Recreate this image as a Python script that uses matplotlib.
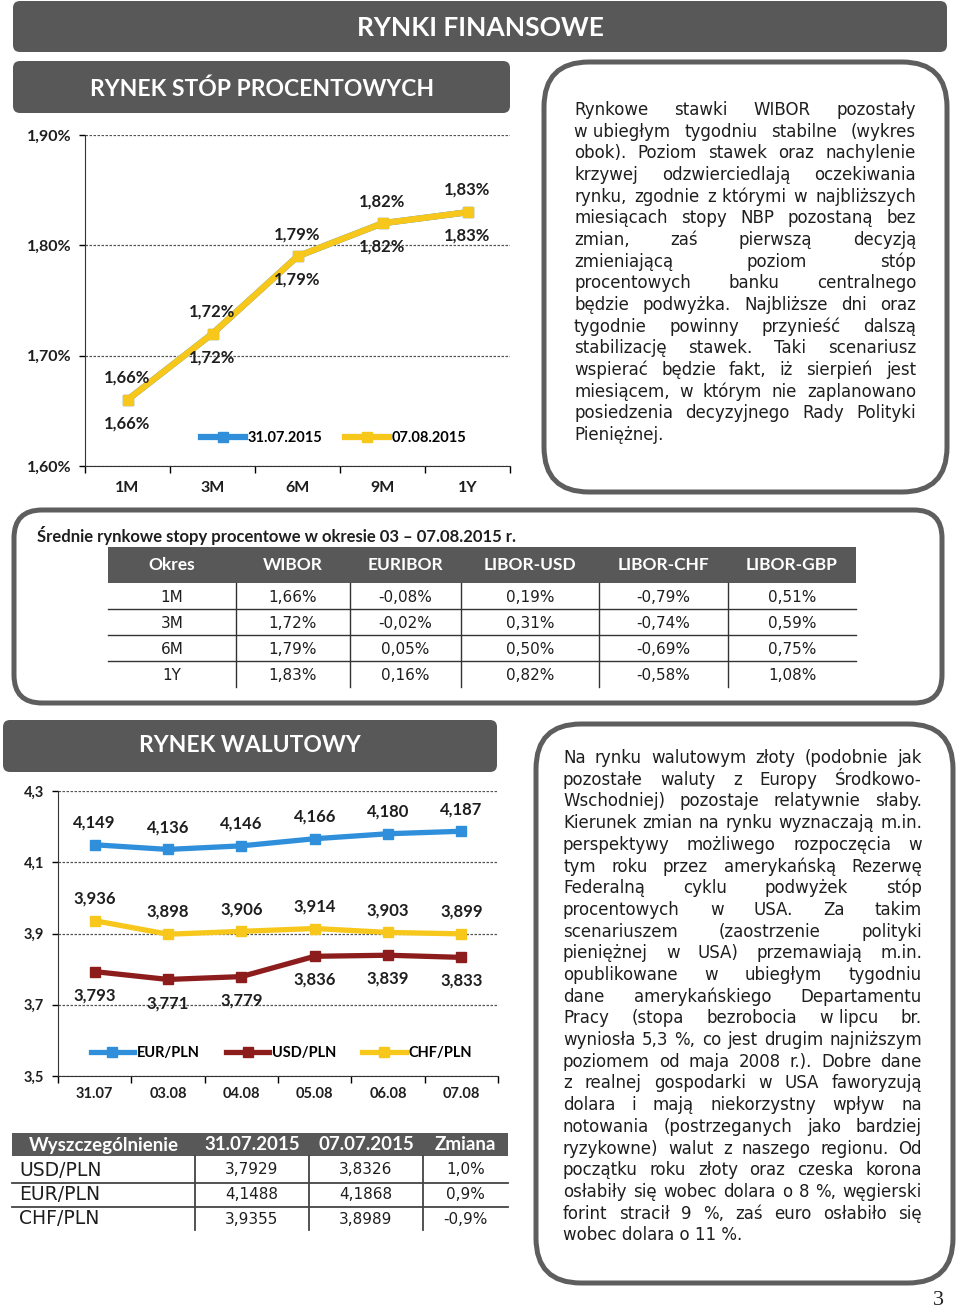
import numpy as np
import matplotlib
matplotlib.use('Agg')
from matplotlib import pyplot as plt
from matplotlib import ticker
from matplotlib.patches import FancyBboxPatch, Rectangle

plt.rcParams['font.family'] = ['Lato', 'DejaVu Sans']

W, H = 960, 1311
DARK = '#585858'
EDGE = '#5e5e5e'
INK = '#1e1e1e'
BLUE = '#2f8fdb'
YELLOW = '#f7c71c'
RED = '#8d1d1d'
BODY = ['DejaVu Sans']

# --- rynek stop procentowych (wykres)
tenors = ['1M', '3M', '6M', '9M', '1Y']
wibor_3107 = [1.66, 1.72, 1.79, 1.82, 1.83]
wibor_0708 = [1.66, 1.72, 1.79, 1.82, 1.83]
rate_ticks = [1.60, 1.70, 1.80, 1.90]

# --- srednie stopy (tabela)
table_cols = ['Okres', 'WIBOR', 'EURIBOR', 'LIBOR-USD', 'LIBOR-CHF', 'LIBOR-GBP']
table_periods = ['1M', '3M', '6M', '1Y']
wibor = [1.66, 1.72, 1.79, 1.83]
euribor = [-0.08, -0.02, 0.05, 0.16]
libor_usd = [0.19, 0.31, 0.50, 0.82]
libor_chf = [-0.79, -0.74, -0.69, -0.58]
libor_gbp = [0.51, 0.59, 0.75, 1.08]

# --- rynek walutowy (wykres)
days = ['31.07', '03.08', '04.08', '05.08', '06.08', '07.08']
eur_pln = [4.149, 4.136, 4.146, 4.166, 4.180, 4.187]
usd_pln = [3.793, 3.771, 3.779, 3.836, 3.839, 3.833]
chf_pln = [3.936, 3.898, 3.906, 3.914, 3.903, 3.899]
fx_ticks = [3.5, 3.7, 3.9, 4.1, 4.3]

# --- kursy (tabela)
fx_cols = ['Wyszczególnienie', '31.07.2015', '07.07.2015', 'Zmiana']
fx_pairs = ['USD/PLN', 'EUR/PLN', 'CHF/PLN']
fx_start = [3.7929, 4.1488, 3.9355]
fx_end = [3.8326, 4.1868, 3.8989]
fx_change = [1.0, 0.9, -0.9]

# '~' = spacja nierozciagana
text_rates = [
    'Rynkowe stawki WIBOR pozostały',
    'w~ubiegłym tygodniu stabilne (wykres',
    'obok). Poziom stawek oraz nachylenie',
    'krzywej odzwierciedlają oczekiwania',
    'rynku, zgodnie z~którymi w najbliższych',
    'miesiącach stopy NBP pozostaną bez',
    'zmian, zaś pierwszą decyzją',
    'zmieniającą poziom stóp',
    'procentowych banku centralnego',
    'będzie podwyżka. Najbliższe dni oraz',
    'tygodnie powinny przynieść dalszą',
    'stabilizację stawek. Taki scenariusz',
    'wspierać będzie fakt, iż sierpień jest',
    'miesiącem, w którym nie zaplanowano',
    'posiedzenia decyzyjnego Rady Polityki',
    'Pieniężnej.',
]
text_fx = [
    'Na rynku walutowym złoty (podobnie jak',
    'pozostałe waluty z Europy Środkowo-',
    'Wschodniej) pozostaje relatywnie słaby.',
    'Kierunek zmian na rynku wyznaczają m.in.',
    'perspektywy możliwego rozpoczęcia w',
    'tym roku przez amerykańską Rezerwę',
    'Federalną cyklu podwyżek stóp',
    'procentowych w USA. Za takim',
    'scenariuszem (zaostrzenie polityki',
    'pieniężnej w USA) przemawiają m.in.',
    'opublikowane w ubiegłym tygodniu',
    'dane amerykańskiego Departamentu',
    'Pracy (stopa bezrobocia w~lipcu br.',
    'wyniosła 5,3 %, co jest drugim najniższym',
    'poziomem od maja 2008 r.). Dobre dane',
    'z realnej gospodarki w USA faworyzują',
    'dolara i mają niekorzystny wpływ na',
    'notowania (postrzeganych jako bardziej',
    'ryzykowne) walut z naszego regionu. Od',
    'początku roku złoty oraz czeska korona',
    'osłabiły się wobec dolara o 8 %, węgierski',
    'forint stracił 9 %, zaś euro osłabiło się',
    'wobec dolara o 11 %.',
]


def pl(v, nd):
    return f'{v:.{nd}f}'.replace('.', ',')


def px_rect(x0, y0, x1, y1):
    return [x0 / W, 1 - y1 / H, (x1 - x0) / W, (y1 - y0) / H]


def banner(ax, x0, y0, x1, y1, title, tx, ty, fs):
    ax.add_patch(FancyBboxPatch((x0, y0), x1 - x0, y1 - y0,
                                boxstyle='round,pad=0,rounding_size=7',
                                fc=DARK, ec='none'))
    ax.text(tx, ty, title, color='white', fontsize=fs, fontweight='bold',
            ha='center', va='baseline')


def frame(ax, x0, y0, x1, y1, r):
    ax.add_patch(FancyBboxPatch((x0, y0), x1 - x0, y1 - y0,
                                boxstyle=f'round,pad=0,rounding_size={r}',
                                fc='white', ec=EDGE, lw=3.6))


def justified(ax, lines, x0, x1, y_base, step, fs):
    r = fig.canvas.get_renderer()
    for i, line in enumerate(lines):
        y = y_base + i * step
        words = line.split(' ')
        if i == len(lines) - 1 or len(words) == 1:
            ax.text(x0, y, line.replace('~', ' '), fontsize=fs, family=BODY,
                    color=INK, va='baseline')
            continue
        arts = [ax.text(0, y, w.replace('~', ' '), fontsize=fs, family=BODY,
                        color=INK, va='baseline') for w in words]
        widths = [a.get_window_extent(r).width for a in arts]
        gap = (x1 - x0 - sum(widths)) / (len(words) - 1)
        x = x0
        for a, w in zip(arts, widths):
            a.set_x(x)
            x += w + gap


def style_chart(ax, labels, yticks, fmt):
    ax.set_xlim(-0.5, len(labels) - 0.5)
    ax.set_ylim(yticks[0], yticks[-1])
    ax.set_yticks(yticks)
    ax.yaxis.set_major_formatter(ticker.FuncFormatter(fmt))
    ax.set_xticks(range(len(labels)), labels)
    ax.set_xticks(np.arange(-0.5, len(labels)), minor=True)
    ax.tick_params(axis='x', which='major', length=0, pad=11)
    ax.tick_params(axis='x', which='minor', length=5, width=1)
    ax.tick_params(axis='y', length=4, width=1, pad=6)
    for lab in ax.get_xticklabels() + ax.get_yticklabels():
        lab.set_fontweight('bold')
        lab.set_color(INK)
    ax.spines[['top', 'right']].set_visible(False)
    ax.spines[['left', 'bottom']].set_color('#333333')
    ax.yaxis.grid(True, linestyle=(0, (2, 1.2)), color='#555555', lw=0.9)
    ax.set_axisbelow(True)
    ax.patch.set_alpha(0)


fig = plt.figure(figsize=(9.6, 13.11), dpi=100)
bg = fig.add_axes([0, 0, 1, 1])
bg.set_xlim(0, W)
bg.set_ylim(H, 0)
bg.axis('off')

# naglowki
banner(bg, 13, 1, 947, 52, 'RYNKI FINANSOWE', 480, 36, 19)
banner(bg, 13, 61, 510, 113, 'RYNEK STÓP PROCENTOWYCH', 262, 96, 16.5)
banner(bg, 3, 720, 497, 772, 'RYNEK WALUTOWY', 250, 752, 16.5)

# ramki z tekstem
frame(bg, 544, 62, 947, 492, 45)
justified(bg, text_rates, 574, 916, 115, 21.67, 12)
frame(bg, 14, 510, 942, 703, 28)
frame(bg, 536, 724, 953, 1283, 45)
justified(bg, text_fx, 563, 922, 763, 21.7, 12)

# tabela srednich stop
bg.text(37, 542, 'Średnie rynkowe stopy procentowe w okresie 03 – 07.08.2015 r.',
        fontsize=12, fontweight='bold', color=INK, va='baseline')
col_x = [108, 236, 350, 461, 599, 728, 856]
bg.add_patch(Rectangle((col_x[0], 547), col_x[-1] - col_x[0], 36, fc=DARK, ec='none'))
for j, name in enumerate(table_cols):
    bg.text((col_x[j] + col_x[j + 1]) / 2, 565, name, color='white', fontsize=12.5,
            fontweight='bold', ha='center', va='center')
table_vals = [wibor, euribor, libor_usd, libor_chf, libor_gbp]
for i, period in enumerate(table_periods):
    yc = 597 + i * 26
    cells = [period] + [pl(col[i], 2) + '%' for col in table_vals]
    for j, cell in enumerate(cells):
        bg.text((col_x[j] + col_x[j + 1]) / 2, yc, cell, fontsize=11, family=BODY,
                color=INK, ha='center', va='center')
    if i > 0:
        bg.plot([col_x[0], col_x[-1]], [yc - 14, yc - 14], color='#333333', lw=1)
for xv in col_x[1:-1]:
    bg.plot([xv, xv], [583, 687], color='#333333', lw=1)

# tabela kursow
fx_x = [12, 195, 309, 423, 508]
bg.add_patch(Rectangle((fx_x[0], 1133), fx_x[-1] - fx_x[0], 23, fc=DARK, ec='none'))
for j, name in enumerate(fx_cols):
    bg.text((fx_x[j] + fx_x[j + 1]) / 2, 1145, name, color='white', fontsize=13.5,
            fontweight='bold', ha='center', va='center')
for i, pair in enumerate(fx_pairs):
    yc = 1170 + i * 24.5
    bg.text(19, yc, pair, fontsize=13.5, family=BODY, color=INK, va='center')
    cells = [pl(fx_start[i], 4), pl(fx_end[i], 4), pl(fx_change[i], 1) + '%']
    for j, cell in enumerate(cells):
        bg.text((fx_x[j + 1] + fx_x[j + 2]) / 2, yc, cell, fontsize=11, family=BODY,
                color=INK, ha='center', va='center')
    if i > 0:
        bg.plot([fx_x[0], fx_x[-1]], [yc - 12, yc - 12], color='#444444', lw=1.3)
for xv in fx_x[1:-1]:
    bg.plot([xv, xv], [1156, 1230], color='#444444', lw=1.3)

bg.text(938, 1305, '3', fontsize=16, family=['Liberation Serif'], color='#222222',
        ha='center', va='baseline')

# wykres WIBOR
ax1 = fig.add_axes(px_rect(85, 135, 510, 466))
xs = range(len(tenors))
ax1.plot(xs, wibor_3107, color=BLUE, lw=4.5, marker='s', ms=7, label='31.07.2015',
         solid_joinstyle='round')
ax1.plot(xs, wibor_0708, color=YELLOW, lw=4.5, marker='s', ms=7, label='07.08.2015',
         solid_joinstyle='round')
for i, v in enumerate(wibor_0708):
    ax1.annotate(pl(v, 2) + '%', (i, v), xytext=(0, 16), textcoords='offset points',
                 ha='center', va='center', fontsize=12, fontweight='bold', color=INK)
for i, v in enumerate(wibor_3107):
    ax1.annotate(pl(v, 2) + '%', (i, v), xytext=(0, -17), textcoords='offset points',
                 ha='center', va='center', fontsize=12, fontweight='bold', color=INK)
style_chart(ax1, tenors, rate_ticks, lambda v, p: pl(v, 2) + '%')
ax1.tick_params(axis='both', labelsize=11.5)
leg = ax1.legend(loc='center', bbox_to_anchor=(0.585, 0.085), ncol=2, frameon=False,
                 handlelength=3.0, handletextpad=0.15, columnspacing=1.6,
                 prop={'weight': 'bold', 'size': 10.5})

# wykres walut
ax2 = fig.add_axes(px_rect(58, 791, 498, 1076))
xs = range(len(days))
ax2.plot(xs, eur_pln, color=BLUE, lw=3.8, marker='s', ms=7, label='EUR/PLN',
         solid_joinstyle='round')
ax2.plot(xs, usd_pln, color=RED, lw=3.8, marker='s', ms=7, label='USD/PLN',
         solid_joinstyle='round')
ax2.plot(xs, chf_pln, color=YELLOW, lw=3.8, marker='s', ms=7, label='CHF/PLN',
         solid_joinstyle='round')
for series, off in [(eur_pln, 16), (chf_pln, 16), (usd_pln, -17)]:
    for i, v in enumerate(series):
        ax2.annotate(pl(v, 3), (i, v), xytext=(0, off), textcoords='offset points',
                     ha='center', va='center', fontsize=12, fontweight='bold', color=INK)
style_chart(ax2, days, fx_ticks, lambda v, p: pl(v, 1))
ax2.tick_params(axis='both', labelsize=10.5)
ax2.tick_params(axis='x', which='major', pad=8)
ax2.legend(loc='center', bbox_to_anchor=(0.507, 0.08), ncol=3, frameon=False,
           handlelength=3.0, handletextpad=0.15, columnspacing=1.8,
           prop={'weight': 'bold', 'size': 10.5})

fig.savefig('out.png', dpi=100)
